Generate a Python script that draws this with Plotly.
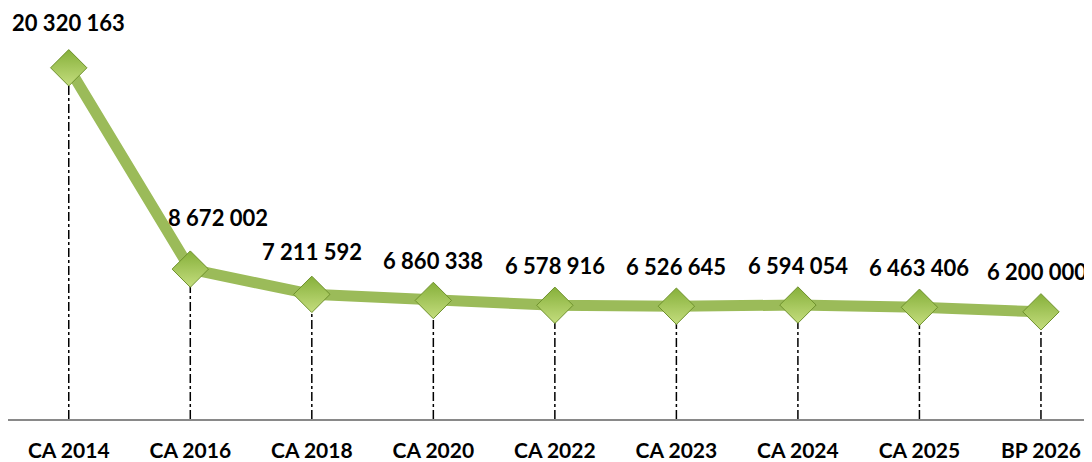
import plotly.graph_objects as go

categories = ["CA 2014", "CA 2016", "CA 2018", "CA 2020", "CA 2022", "CA 2023", "CA 2024", "CA 2025", "BP 2026"]
values = [20320163, 8672002, 7211592, 6860338, 6578916, 6526645, 6594054, 6463406, 6200000]
labels = ["20 320 163", "8 672 002", "7 211 592", "6 860 338", "6 578 916", "6 526 645", "6 594 054", "6 463 406", "6 200 000"]
label_dx = [0, 28, 0, 0, 0, 0, 0, 0, -4]
label_dy = [45, 52, 43, 40, 40, 40, 40, 40, 40]

fig = go.Figure()

# drop lines
dx, dy = [], []
for c, v in zip(categories, values):
    dx += [c, c, None]
    dy += [0, v, None]
fig.add_trace(go.Scatter(x=dx, y=dy, mode="lines",
                         line=dict(color="black", width=1.5, dash="dashdot"),
                         hoverinfo="skip", showlegend=False))

fig.add_trace(go.Scatter(x=categories, y=values, mode="lines",
                         line=dict(color="#9BBB59", width=11),
                         showlegend=False))
fig.add_trace(go.Scatter(x=categories, y=values, mode="markers",
                         marker=dict(symbol="diamond", size=28, color="#86B03A",
                                     gradient=dict(type="vertical", color="#C4DD7E"),
                                     line=dict(color="#6E912C", width=1)),
                         showlegend=False))

for c, v, t, ddx, ddy in zip(categories, values, labels, label_dx, label_dy):
    fig.add_annotation(x=c, y=v, text=t, showarrow=False, xshift=ddx, yshift=ddy,
                       font=dict(family="Lato", size=22, color="black", weight="bold"))

fig.update_layout(
    width=1084, height=454,
    margin=dict(l=0, r=0, t=0, b=43, autoexpand=False),
    plot_bgcolor="white", paper_bgcolor="white",
    xaxis=dict(type="category", range=[-0.5, 8.42], showgrid=False, zeroline=False,
               showline=True, linecolor="#898989", linewidth=2, ticks="",
               automargin=False, ticklabelstandoff=12,
               tickfont=dict(family="Lato", size=21, color="black", weight="bold")),
    yaxis=dict(range=[0, 23.78e6], visible=False, automargin=False),
)

fig.write_html("out.html")
